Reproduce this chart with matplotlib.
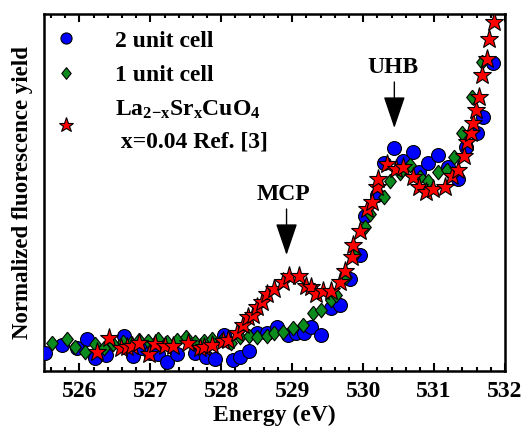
import numpy as np
import matplotlib
matplotlib.use("Agg")
import matplotlib.pyplot as plt

plt.rcParams['font.family'] = ['Liberation Serif', 'DejaVu Serif']
plt.rcParams['font.weight'] = 'bold'
plt.rcParams['mathtext.fontset'] = 'custom'
plt.rcParams['mathtext.rm'] = 'Liberation Serif:bold'
plt.rcParams['mathtext.bf'] = 'Liberation Serif:bold'
plt.rcParams['mathtext.default'] = 'bf'

# 2 unit cell (blue circles)
e_2uc = [525.52, 525.76, 525.97, 526.11, 526.22, 526.37, 526.63, 526.76, 526.88, 527.00,
         527.11, 527.24, 527.38, 527.63, 527.78, 527.91, 528.04, 528.16, 528.26, 528.39,
         528.51, 528.65, 528.78, 528.94, 529.06, 529.17, 529.27, 529.41, 529.55, 529.68,
         529.82, 529.95, 530.03, 530.19, 530.30, 530.44, 530.56, 530.70, 530.79, 530.92,
         531.06, 531.20, 531.34, 531.45, 531.60, 531.69, 531.83]
y_2uc = [-0.08, 0.00, -0.03, 0.06, -0.13, -0.10, 0.09, -0.11, -0.03, -0.08,
         -0.09, -0.17, -0.09, -0.08, -0.12, -0.14, 0.10, -0.15, -0.12, -0.06,
         0.12, 0.12, 0.18, 0.10, 0.12, 0.12, 0.18, 0.10, 0.37, 0.40,
         0.66, 0.90, 1.29, 1.50, 1.82, 1.97, 1.84, 1.93, 1.73, 1.82,
         1.90, 1.78, 1.66, 1.98, 2.12, 2.28, 2.82]

# 1 unit cell (green diamonds)
e_1uc = [525.61, 525.82, 525.94, 526.08, 526.22, 526.34, 526.48, 526.62, 526.72, 526.84,
         526.97, 527.11, 527.24, 527.38, 527.50, 527.63, 527.76, 527.87, 528.01, 528.13,
         528.26, 528.39, 528.51, 528.64, 528.75, 528.87, 529.01, 529.15, 529.29, 529.41,
         529.54, 529.62, 529.76, 529.88, 530.03, 530.10, 530.30, 530.38, 530.52, 530.66,
         530.80, 530.92, 531.06, 531.18, 531.28, 531.39, 531.53, 531.67]
y_1uc = [0.02, 0.06, -0.02, -0.07, 0.01, -0.03, 0.01, 0.03, 0.02, 0.05,
         0.04, 0.06, 0.03, 0.05, 0.08, 0.03, 0.04, 0.06, 0.05, 0.02,
         0.08, 0.09, 0.08, 0.09, 0.12, 0.13, 0.17, 0.20, 0.32, 0.35,
         0.45, 0.50, 0.68, 0.91, 1.18, 1.31, 1.48, 1.64, 1.72, 1.80,
         1.68, 1.64, 1.73, 1.75, 1.88, 2.12, 2.48, 2.83]

# La2-xSrxCuO4, x=0.04 (red stars)
e_lsco = [526.25, 526.41, 526.58, 526.67, 526.74, 526.84, 526.98, 527.07, 527.21, 527.32,
          527.53, 527.70, 527.76, 527.87, 528.02, 528.09, 528.22, 528.30, 528.37, 528.44,
          528.50, 528.57, 528.64, 528.74, 528.87, 528.96, 529.09, 529.19, 529.27, 529.34,
          529.44, 529.54, 529.67, 529.75, 529.85, 529.86, 529.96, 530.06, 530.12, 530.19,
          530.21, 530.33, 530.47, 530.56, 530.70, 530.79, 530.89, 530.99, 531.15, 531.25,
          531.34, 531.42, 531.46, 531.52, 531.55, 531.59, 531.63, 531.67, 531.74, 531.77,
          531.84]
y_lsco = [-0.07, 0.07, -0.03, -0.02, -0.01, 0.02, -0.09, 0.01, -0.01, -0.01,
          0.02, -0.03, -0.02, 0.00, 0.04, 0.05, 0.12, 0.20, 0.28, 0.30,
          0.38, 0.43, 0.51, 0.56, 0.63, 0.69, 0.69, 0.59, 0.58, 0.51,
          0.54, 0.54, 0.63, 0.74, 0.88, 1.00, 1.14, 1.36, 1.43, 1.58,
          1.66, 1.81, 1.76, 1.78, 1.68, 1.58, 1.53, 1.56, 1.58, 1.69,
          1.75, 1.89, 2.03, 2.12, 2.22, 2.35, 2.48, 2.70, 2.86, 3.06,
          3.23]

fig = plt.figure(figsize=(5.32, 4.34), dpi=100)
ax = fig.add_axes([0.0827, 0.1452, 0.8665, 0.8225])

diamond = [(0, 1), (0.8, 0), (0, -1), (-0.8, 0), (0, 1)]

ax.plot(e_2uc, y_2uc, ls='none', marker='o', ms=10, mfc='#0000ff', mec='k', mew=0.8,
        label='2 unit cell', zorder=3)
ax.plot(e_1uc, y_1uc, ls='none', marker=diamond, ms=10.5, mfc='#0b8a1e', mec='k', mew=0.8,
        label='1 unit cell', zorder=4)
ax.plot(e_lsco, y_lsco, ls='none', marker='*', ms=14, mfc='#ff0000', mec='k', mew=0.8,
        label='La$_{2\\mathrm{-}x}$Sr$_x$CuO$_4$\n x=0.04 Ref. [3]', zorder=5)

# peak labels
ax.annotate('', xy=(530.44, 2.17), xytext=(530.44, 2.63),
            arrowprops=dict(arrowstyle='-|>,head_length=1.0,head_width=0.34',
                            mutation_scale=20, color='k', lw=1, shrinkA=0, shrinkB=0))
ax.text(530.42, 2.78, 'UHB', ha='center', va='center', fontsize=17, fontweight='bold')
ax.annotate('', xy=(528.92, 0.90), xytext=(528.92, 1.36),
            arrowprops=dict(arrowstyle='-|>,head_length=1.0,head_width=0.34',
                            mutation_scale=20, color='k', lw=1, shrinkA=0, shrinkB=0))
ax.text(528.88, 1.51, 'MCP', ha='center', va='center', fontsize=17, fontweight='bold')

ax.set_xlim(525.5, 532)
ax.set_ylim(-0.26, 3.31)
ax.set_xticks(np.arange(526, 532.5, 1))
ax.set_xticks(np.arange(525.6, 532.0, 0.2), minor=True)
ax.set_yticks([])
ax.tick_params(axis='x', which='both', direction='in', top=True, bottom=True,
               labelsize=17, width=1.5, pad=7)
ax.tick_params(axis='x', which='major', length=6)
ax.tick_params(axis='x', which='minor', length=3)
for lab in ax.get_xticklabels():
    lab.set_fontweight('bold')
for sp in ax.spines.values():
    sp.set_linewidth(1.8)

ax.set_xlabel('Energy (eV)', fontsize=17, fontweight='bold', labelpad=2)
ax.set_ylabel('Normalized fluorescence yield', fontsize=16.5, fontweight='bold', labelpad=8)

leg = ax.legend(loc='upper left', bbox_to_anchor=(0.0, 0.978), frameon=False,
                fontsize=17, markerscale=0.8, handletextpad=1.45, labelspacing=0.55,
                borderpad=0.1, borderaxespad=0.25, handlelength=1.2)
for t in leg.get_texts():
    t.set_fontweight('bold')
    t.set_linespacing(1.6)

fig.savefig('out.png', dpi=100)
